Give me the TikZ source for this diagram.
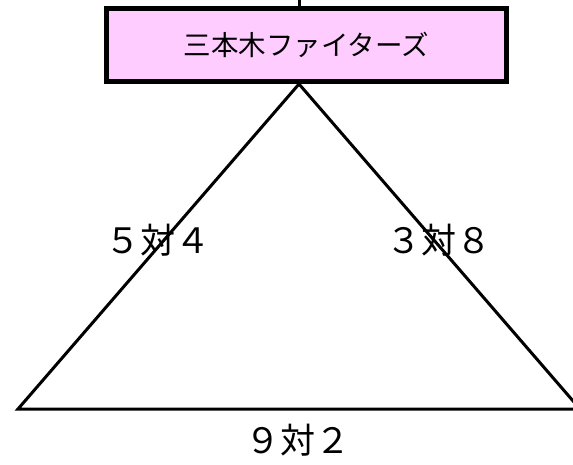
\documentclass[tikz,border=0pt]{standalone}
\usepackage{fontspec}
\newfontfamily\jpfont{Noto Sans CJK JP}
\definecolor{teampink}{HTML}{FFCCFF}
\tikzset{
	teambox/.style={rectangle, draw=black, line width=5pt, fill=teampink, minimum width=400pt, minimum height=73pt, inner sep=0pt, font=\jpfont\fontsize{27.5}{30}\selectfont},
	score/.style={font=\jpfont\fontsize{35}{40}\selectfont, inner sep=0pt},
	edge/.style={line width=3pt, line join=miter}
}
\begin{document}
\begin{tikzpicture}[x=1pt, y=-1pt]
	\useasboundingbox (0,0) rectangle (573,464);
		\coordinate (up) at (299,0);
		\node[teambox] (team) at (306.5,45) {三本木ファイターズ};
		\coordinate (apex) at (299,84);
		\coordinate (left) at (18,409);
		\coordinate (right) at (580,409);
		
		\draw[line width=3pt] (up) -- (299,6);
		\draw[edge] (left) -- (apex) -- (right) -- cycle;
		
		\node[score] (s1) at (158,240) {５対４};
		\node[score] (s2) at (439,240) {３対８};
		\node[score] (s3) at (298,440) {９対２};
	\end{tikzpicture}
\end{document}
